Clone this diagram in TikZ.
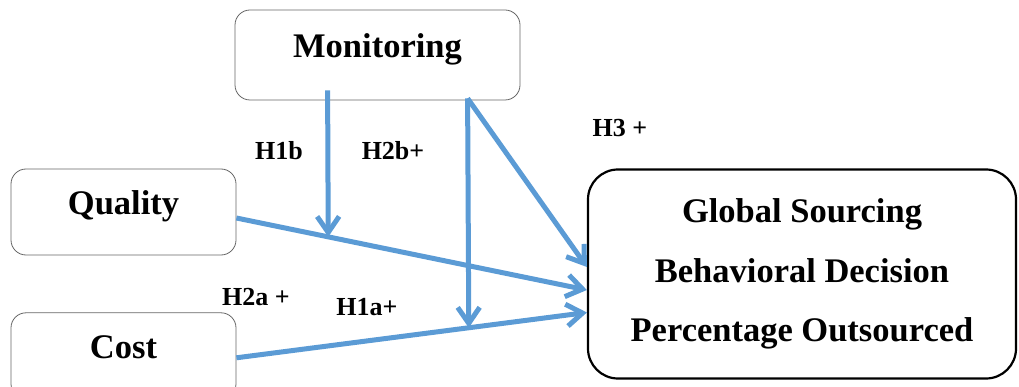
\documentclass[tikz,border=0pt]{standalone}
\usepackage{fontspec}
\setmainfont{Liberation Serif}
\usetikzlibrary{positioning,arrows.meta,calc}
\definecolor{arrowblue}{HTML}{5B9BD5}
\tikzstyle{smallblock} = [rectangle, rounded corners=15pt, draw=black!60, line width=0.8pt, minimum width=225pt, minimum height=86pt, inner sep=0pt, text centered, text height=24pt, text depth=19pt, font=\fontsize{34.5}{40}\selectfont\bfseries]
\tikzstyle{bigblock} = [rectangle, rounded corners=30pt, draw=black, line width=2.2pt, minimum width=428pt, minimum height=209pt, inner sep=0pt, align=center, font=\fontsize{34.5}{59.5}\selectfont\bfseries]
\tikzstyle{hyp} = [anchor=base, inner sep=0pt, font=\fontsize{26}{30}\selectfont\bfseries]
\tikzstyle{line} = [draw=arrowblue, line width=5pt, -{Straight Barb[length=16pt,width=22pt]}]

\begin{document}
\begin{tikzpicture}[x=1pt, y=-1pt]
				\useasboundingbox (0,0) rectangle (1019,387);
				% Place nodes
				\node [smallblock, minimum width=285pt, minimum height=90pt] (mon) at (377.5,55) {Monitoring};
				\node [smallblock] (qual) at (123.5,212) {Quality};
				\node [smallblock, below = 57pt of qual] (cost) {Cost};
				\node [bigblock] (goal) at (802,274) {Global Sourcing\\Behavioral Decision\\Percentage Outsourced};
				% Hypothesis labels
				\node [hyp] (h1b) at (279,160) {H1b};
				\node [hyp] (h2b) at (393,160) {H2b+};
				\node [hyp] (h3) at (620,137) {H3 +};
				\node [hyp] (h2a) at (256,305) {H2a +};
				\node [hyp] (h1a) at (367,315) {H1a+};
				% Path points
				\coordinate (qout) at ($(qual.east)+(0,6)$);
				\coordinate (qin) at ($(goal.west)+(0,16)$);
				\coordinate (cout) at ($(cost.east)+(0,2)$);
				\coordinate (cin) at ($(goal.west)+(0,38.5)$);
				\coordinate (mleft) at ($(mon.south west)+(93,-10)$);
				\coordinate (mright) at ($(mon.south west)+(233,-2)$);
				\coordinate (gtop) at ($(goal.west)+(0,-7)$);
				\coordinate (qmid) at ($(qout)!0.262!(qin)$);
				\coordinate (cmid) at ($(cout)!0.663!(cin)$);
				% Connectors
				\path [line] (qout) -- (qin);
				\path [line] (cout) -- (cin);
				\path [line] (mleft) -- (qmid);
				\path [line] (mright) -- (cmid);
				\path [line] (mright) -- (gtop);
\end{tikzpicture}
\end{document}
